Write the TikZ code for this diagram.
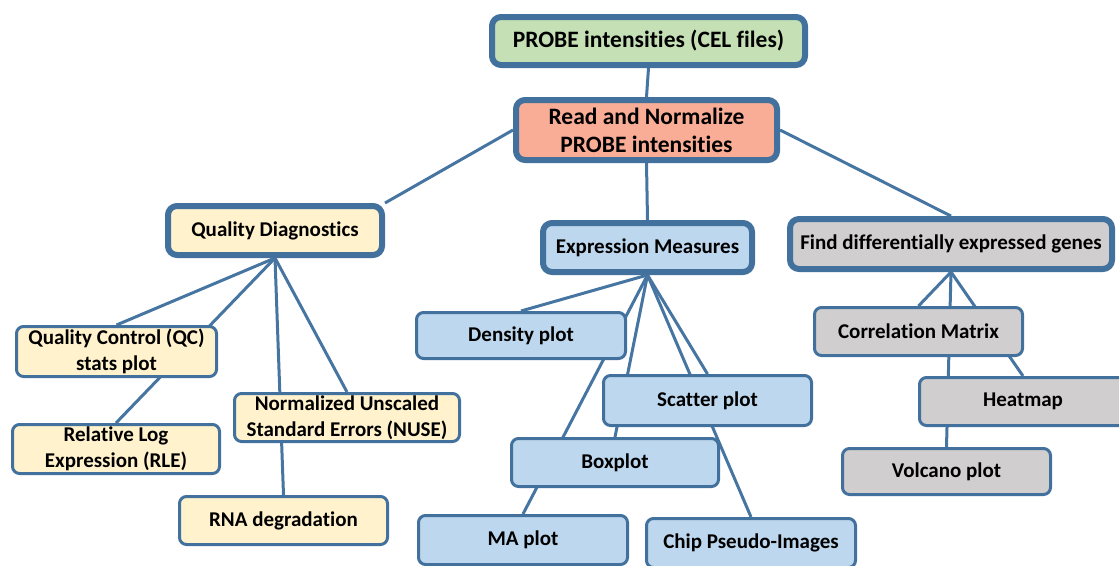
\documentclass[tikz,border=0pt]{standalone}
\usepackage{fontspec}
\setmainfont{Carlito}[Ligatures=NoCommon]
\usetikzlibrary{backgrounds}
\definecolor{boxline}{RGB}{65,113,156}
\definecolor{linkcol}{RGB}{70,117,162}
\definecolor{probegreen}{HTML}{C5E0B4}
\definecolor{normsalmon}{HTML}{F9AD96}
\definecolor{qdyellow}{HTML}{FFF2CC}
\definecolor{exprblue}{HTML}{BDD7EE}
\definecolor{degray}{HTML}{D0CECE}
\begin{document}
\begin{tikzpicture}[x=1pt,y=-1pt,line join=round,line cap=round]
			\tikzset{every node/.style={font=\bfseries\fontsize{21}{25.5}\selectfont,inner sep=0pt,align=center}}
			\tikzset{mainbox/.style={draw=boxline,line width=6pt,rounded corners=9pt}}
			\tikzset{topbox/.style={mainbox,font=\bfseries\fontsize{23.5}{28}\selectfont}}
			\tikzset{subbox/.style={draw=boxline,line width=3pt,rounded corners=7pt}}
			\tikzset{link/.style={draw=linkcol,line width=3pt}}
			\useasboundingbox (0,0) rectangle (1119,565);
			% top of the tree
			\node[topbox,fill=probegreen,minimum width=313pt,minimum height=48pt] (probe) at (648.5,41) {PROBE intensities (CEL files)};
			\node[topbox,fill=normsalmon,minimum width=261pt,minimum height=60pt] (norm) at (646.5,130) {Read and Normalize\\PROBE intensities};
			\node[mainbox,fill=qdyellow,minimum width=214pt,minimum height=49pt] (qd) at (275,230.5) {Quality Diagnostics};
			\node[mainbox,fill=exprblue,minimum width=209pt,minimum height=49pt] (em) at (647.5,247.5) {Expression Measures};
			\node[mainbox,fill=degray,minimum width=322pt,minimum height=50pt] (fde) at (951,244) {Find differentially expressed genes};
			% quality diagnostics
			\node[subbox,fill=qdyellow,minimum width=200pt,minimum height=50pt] (qc) at (116.5,351.5) {Quality Control (QC)\\stats plot};
			\node[subbox,fill=qdyellow,minimum width=207pt,minimum height=49pt] (rle) at (116,449) {Relative Log\\Expression (RLE)};
			\node[subbox,fill=qdyellow,minimum width=225pt,minimum height=48pt] (nuse) at (347,417.5) {Normalized Unscaled\\Standard Errors (NUSE)};
			\node[subbox,fill=qdyellow,minimum width=208pt,minimum height=48pt] (rna) at (283.5,520.5) {RNA degradation};
			% expression measures
			\node[subbox,fill=exprblue,minimum width=209pt,minimum height=46pt] (density) at (521,335.5) {Density plot};
			\node[subbox,fill=exprblue,minimum width=208pt,minimum height=50pt] (scatter) at (707.5,400.5) {Scatter plot};
			\node[subbox,fill=exprblue,minimum width=207pt,minimum height=48pt] (boxplot) at (615,462.5) {Boxplot};
			\node[subbox,fill=exprblue,minimum width=209pt,minimum height=49pt] (ma) at (523,540) {MA plot};
			\node[subbox,fill=exprblue,minimum width=209pt,minimum height=49pt] (chip) at (751,543) {Chip Pseudo-Images};
			% differential expression
			\node[subbox,fill=degray,minimum width=208pt,minimum height=48pt] (corr) at (918.5,331.5) {Correlation Matrix};
			\node[subbox,fill=degray,minimum width=207pt,minimum height=48pt] (heat) at (1023,401.5) {Heatmap};
			\node[subbox,fill=degray,minimum width=208pt,minimum height=46pt] (volcano) at (946.5,471.5) {Volcano plot};
			% connectors behind the boxes
			\begin{scope}[on background layer]
				\draw[link] (probe.south) -- (norm.north);
				\draw[link] (norm.west) -- (qd.north east);
				\draw[link] (norm.south) -- (em.north);
				\draw[link] (norm.east) -- (fde.north);
				\foreach \child in {qc,rle,nuse,rna}
				\draw[link] (qd.south) -- (\child.north);
				\foreach \child in {density,ma,boxplot,scatter,chip}
				\draw[link] (em.south) -- (\child.north);
				\foreach \child in {corr,heat,volcano}
				\draw[link] (fde.south) -- (\child.north);
			\end{scope}
		\end{tikzpicture}
\end{document}
